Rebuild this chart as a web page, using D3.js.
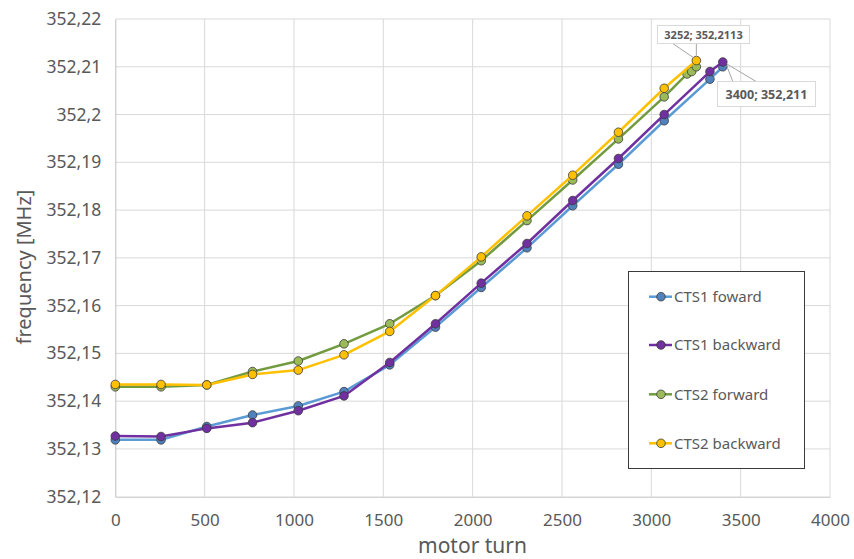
<!DOCTYPE html>
<html><head><meta charset="utf-8">
<script src="https://cdn.jsdelivr.net/npm/d3@7"></script>
<style>body{margin:0;background:#fff}svg{display:block}</style>
</head><body><svg id="c" width="854" height="559"></svg>
<script>
const seriesNames = ["CTS1 foward","CTS1 backward","CTS2 forward","CTS2 backward"];
const cts1fX = [0,256,512,768,1024,1280,1536,1792,2048,2304,2560,2816,3072,3328,3400];
const cts1fY = [352.1319,352.1319,352.1347,352.1371,352.1390,352.1420,352.1476,352.1555,352.1638,352.1721,352.1809,352.1896,352.1987,352.2074,352.2100];
const cts1bX = [0,256,512,768,1024,1280,1536,1792,2048,2304,2560,2816,3072,3328,3400];
const cts1bY = [352.1327,352.1326,352.1343,352.1355,352.1380,352.1411,352.1481,352.1562,352.1647,352.1730,352.1820,352.1908,352.2000,352.2090,352.2110];
const cts2fX = [0,256,512,768,1024,1280,1536,1792,2048,2304,2560,2816,3072,3200,3226,3252];
const cts2fY = [352.1430,352.1430,352.1434,352.1462,352.1484,352.1520,352.1562,352.1621,352.1694,352.1778,352.1863,352.1949,352.2037,352.2085,352.2090,352.2100];
const cts2bX = [0,256,512,768,1024,1280,1536,1792,2048,2304,2560,2816,3072,3252];
const cts2bY = [352.1435,352.1435,352.1434,352.1456,352.1465,352.1497,352.1546,352.1621,352.1702,352.1788,352.1873,352.1963,352.2055,352.2113];
const xTicks = [0,500,1000,1500,2000,2500,3000,3500,4000];
const yTicks = [352.12,352.13,352.14,352.15,352.16,352.17,352.18,352.19,352.2,352.21,352.22];
const annotations = [{x:3252,y:352.2113,label:"3252; 352,2113"},{x:3400,y:352.211,label:"3400; 352,211"}];

const lineColors = ["#5B9BD5","#7030A0","#729B40","#FFC000"];
const markColors = ["#4F81BD","#7030A0","#9BBB59","#FFC000"];
const FONT = "'Noto Sans', sans-serif";

const svg = d3.select("#c");
const L=115.3, R=830, T=19, B=496.7;
const x = d3.scaleLinear().domain([0,4000]).range([L,R]);
const y = d3.scaleLinear().domain([352.12,352.22]).range([B,T]);
const fmt = v => d3.format(".2~f")(v).replace(".",",");

// grid
svg.append("g").selectAll("line").data(xTicks.slice(1)).join("line")
  .attr("x1",d=>x(d)).attr("x2",d=>x(d)).attr("y1",T).attr("y2",B)
  .attr("stroke","#D9D9D9").attr("stroke-width",1);
svg.append("g").selectAll("line").data(yTicks.slice(1)).join("line")
  .attr("x1",L).attr("x2",R).attr("y1",d=>y(d)).attr("y2",d=>y(d))
  .attr("stroke","#D9D9D9").attr("stroke-width",1);
// axes
const xAxis = svg.append("g").attr("transform",`translate(0,${B})`)
  .call(d3.axisBottom(x).tickValues(xTicks).tickSize(0).tickFormat(d3.format("d")));
xAxis.select(".domain").attr("stroke","#BFBFBF");
xAxis.selectAll("text").attr("dy",0).attr("y",29).attr("font-family",FONT).attr("font-size",17).attr("fill","#595959");
const yAxis = svg.append("g").attr("transform",`translate(${L},0)`)
  .call(d3.axisLeft(y).tickValues(yTicks).tickSize(0).tickFormat(fmt));
yAxis.select(".domain").attr("stroke","#BFBFBF");
yAxis.selectAll("text").attr("x",-14).attr("font-family",FONT).attr("font-size",17.5).attr("fill","#595959");

// titles
svg.append("text").attr("x",472.5).attr("y",553).attr("text-anchor","middle")
  .attr("font-family",FONT).attr("font-size",21).attr("fill","#595959").text("motor turn");
svg.append("text").attr("transform",`translate(31,267) rotate(-90)`).attr("text-anchor","middle")
  .attr("font-family",FONT).attr("font-size",20).attr("fill","#595959").text("frequency [MHz]");

// series
const allX=[cts1fX,cts1bX,cts2fX,cts2bX], allY=[cts1fY,cts1bY,cts2fY,cts2bY];
const line = d3.line().x(d=>x(d[0])).y(d=>y(d[1]));
allX.forEach((xs,i)=>{
  const pts = xs.map((v,j)=>[v,allY[i][j]]);
  const g = svg.append("g");
  g.append("path").datum(pts).attr("d",line).attr("fill","none")
   .attr("stroke",lineColors[i]).attr("stroke-width",2.5).attr("stroke-linejoin","round");
  g.selectAll("circle").data(pts).join("circle")
   .attr("cx",d=>x(d[0])).attr("cy",d=>y(d[1])).attr("r",4.3)
   .attr("fill",markColors[i]).attr("stroke","#3a3a3a").attr("stroke-width",0.8);
});

// annotations
const a0=annotations[0], a1=annotations[1];
const ag = svg.append("g");
ag.append("line").attr("x1",672).attr("y1",43).attr("x2",x(a0.x)-3).attr("y2",y(a0.y)-3).attr("stroke","#A6A6A6");
ag.append("line").attr("x1",x(a0.x)).attr("y1",43).attr("x2",x(a0.x)).attr("y2",y(a0.y)-4).attr("stroke","#A6A6A6");
ag.append("rect").attr("x",657.5).attr("y",25.5).attr("width",92).attr("height",18).attr("fill","#fff").attr("stroke","#D9D9D9");
ag.append("text").attr("x",703.5).attr("y",39).attr("text-anchor","middle").attr("font-family",FONT)
  .attr("font-weight","bold").attr("font-size",11).attr("fill","#595959").text(a0.label);
ag.append("line").attr("x1",x(a1.x)+4).attr("y1",y(a1.y)+2).attr("x2",757).attr("y2",82).attr("stroke","#A6A6A6");
ag.append("line").attr("x1",x(a1.x)+4).attr("y1",y(a1.y)+4).attr("x2",733).attr("y2",82).attr("stroke","#A6A6A6");
ag.append("rect").attr("x",717.5).attr("y",81.5).attr("width",98).attr("height",25).attr("fill","#fff").attr("stroke","#D9D9D9");
ag.append("text").attr("x",766.5).attr("y",99).attr("text-anchor","middle").attr("font-family",FONT)
  .attr("font-weight","bold").attr("font-size",12.5).attr("fill","#595959").text(a1.label);

// legend
const lg = svg.append("g");
lg.append("rect").attr("x",628.5).attr("y",271.5).attr("width",176).attr("height",197).attr("fill","#fff").attr("stroke","#3a3a3a").attr("stroke-width",1);
const ly = [296.7,345,394.3,443.3];
seriesNames.forEach((n,i)=>{
  lg.append("line").attr("x1",649).attr("x2",672).attr("y1",ly[i]).attr("y2",ly[i]).attr("stroke",lineColors[i]).attr("stroke-width",2.5);
  lg.append("circle").attr("cx",661).attr("cy",ly[i]).attr("r",4.3).attr("fill",markColors[i]).attr("stroke","#3a3a3a").attr("stroke-width",0.8);
  lg.append("text").attr("x",674).attr("y",ly[i]).attr("dy","0.35em").attr("font-family",FONT).attr("font-size",15)
    .attr("fill","#595959").text(n);
});
</script></body></html>
